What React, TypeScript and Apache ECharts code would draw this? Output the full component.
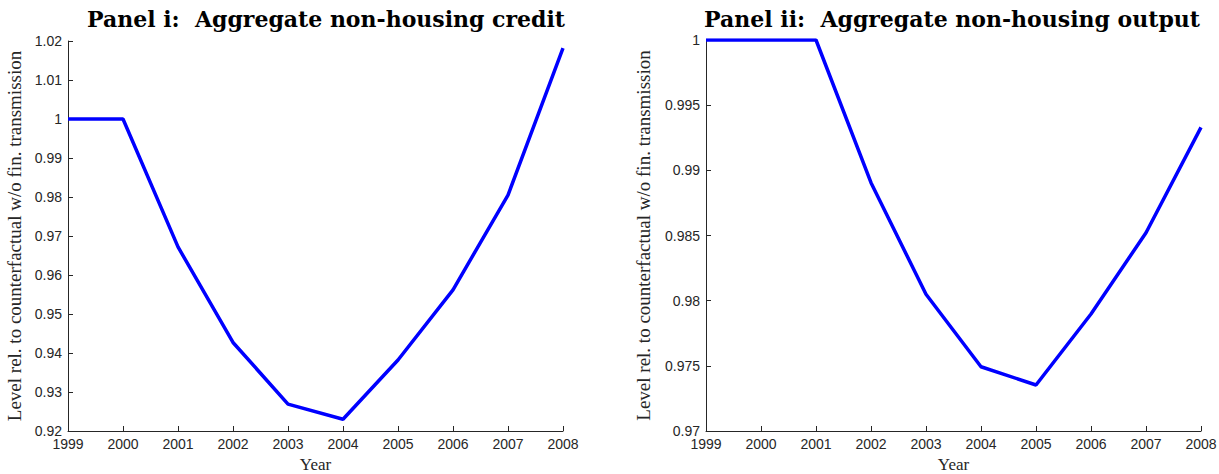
import React, { useEffect, useRef } from "react";
import * as echarts from "echarts";

// Years on the horizontal axis
const years = [1999, 2000, 2001, 2002, 2003, 2004, 2005, 2006, 2007, 2008];

// Level relative to counterfactual without financial transmission
const creditLevels = [1.0, 1.0, 0.9672, 0.9427, 0.9269, 0.923, 0.9382, 0.9562, 0.9805, 1.0182];
const outputLevels = [1.0, 1.0, 1.0, 0.98905, 0.98049, 0.97493, 0.97353, 0.97898, 0.98521, 0.9933];

const panelTitles = [
  "Panel i:  Aggregate non-housing credit",
  "Panel ii:  Aggregate non-housing output",
];
const xName = "Year";
const yName = "Level rel. to counterfactual w/o fin. transmission";

const axisColor = "#262626";
const titleFont = "'DejaVu Serif', serif";
const serif = "'Liberation Serif', 'Times New Roman', serif";
const sans = "'Liberation Sans', Arial, sans-serif";

function makeXAxis(gridIndex: number) {
  return {
    type: "value",
    gridIndex,
    min: 1999,
    max: 2008,
    interval: 1,
    name: xName,
    nameLocation: "middle",
    nameGap: 25,
    nameTextStyle: { fontFamily: serif, fontSize: 17, color: axisColor },
    axisLine: { onZero: false, lineStyle: { color: axisColor, width: 1 } },
    axisTick: { inside: true, length: 5, lineStyle: { color: axisColor } },
    axisLabel: {
      fontFamily: sans,
      fontSize: 14,
      color: axisColor,
      margin: 6,
      formatter: (v: number) => String(v),
    },
    splitLine: { show: false },
  };
}

function makeYAxis(gridIndex: number, min: number, max: number, interval: number, nameGap: number) {
  return {
    type: "value",
    gridIndex,
    min,
    max,
    interval,
    name: yName,
    nameLocation: "middle",
    nameGap,
    nameTextStyle: { fontFamily: serif, fontSize: 19, color: axisColor },
    axisLine: { show: true, lineStyle: { color: axisColor, width: 1 } },
    axisTick: { show: true, inside: true, length: 5, lineStyle: { color: axisColor } },
    axisLabel: {
      fontFamily: sans,
      fontSize: 14,
      color: axisColor,
      margin: 6,
      formatter: (v: number) => String(parseFloat(v.toFixed(4))),
    },
    splitLine: { show: false },
  };
}

export default function App() {
  const ref = useRef<HTMLDivElement>(null);

  useEffect(() => {
    if (!ref.current) return;
    const chart = echarts.init(ref.current, null, { renderer: "svg" });
    chart.setOption({
      animation: false,
      backgroundColor: "#ffffff",
      title: [
        {
          text: panelTitles[0],
          left: 321,
          top: 3,
          textAlign: "center",
          textStyle: { fontFamily: titleFont, fontWeight: "bold", fontSize: 22, color: "#000" },
        },
        {
          text: panelTitles[1],
          left: 947,
          top: 3,
          textAlign: "center",
          textStyle: { fontFamily: titleFont, fontWeight: "bold", fontSize: 22, color: "#000" },
        },
      ],
      grid: [
        { left: 68, right: 656, top: 41, bottom: 43, outerBoundsMode: "none" },
        { left: 706, right: 18, top: 40, bottom: 43, outerBoundsMode: "none" },
      ],
      xAxis: [makeXAxis(0), makeXAxis(1)],
      yAxis: [
        makeYAxis(0, 0.92, 1.02, 0.01, 44),
        makeYAxis(1, 0.97, 1.0, 0.005, 53),
      ],
      series: [
        {
          type: "line",
          xAxisIndex: 0,
          yAxisIndex: 0,
          data: years.map((y, i) => [y, creditLevels[i]]),
          showSymbol: false,
          lineStyle: { color: "#0000ff", width: 3.5 },
        },
        {
          type: "line",
          xAxisIndex: 1,
          yAxisIndex: 1,
          data: years.map((y, i) => [y, outputLevels[i]]),
          showSymbol: false,
          lineStyle: { color: "#0000ff", width: 3.5 },
        },
      ],
    });
    return () => chart.dispose();
  }, []);

  return (
    <div
      ref={ref}
      style={{ position: "absolute", left: 0, top: 0, width: 1219, height: 474 }}
    />
  );
}
